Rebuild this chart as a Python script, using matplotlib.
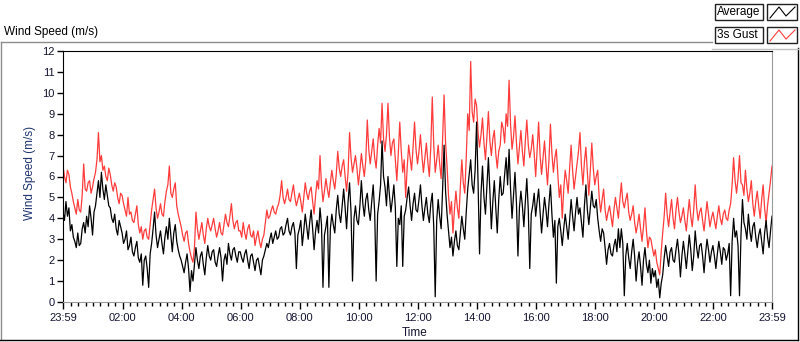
import numpy as np
import matplotlib
matplotlib.use("Agg")
import matplotlib.pyplot as plt
from matplotlib.lines import Line2D
from matplotlib.patches import Rectangle

# --- Data (hours after 23:59, one sample every 0.05 h) ---
step_h = 0.05

average = [
    4.3, 3.9, 4.8, 4.1, 4.5, 3.4, 3.7, 3.1, 2.9, 2.6, 3.3, 2.7, 2.8, 3.5, 3.8, 3.3, 4.1, 3.6, 4.6, 4.0,
    3.2, 4.3, 4.6, 5.2, 5.8, 5.0, 6.2, 5.4, 4.9, 5.6, 5.1, 4.6, 4.5, 4.0, 3.8, 4.2, 3.5, 3.2, 3.9, 3.6,
    3.3, 2.8, 3.0, 3.4, 2.5, 2.7, 3.1, 2.4, 2.2, 2.6, 2.9, 2.1, 1.9, 2.3, 0.8, 2.0, 2.2, 1.6, 0.7, 2.3,
    2.8, 3.5, 4.3, 3.2, 2.6, 3.0, 3.4, 2.8, 2.3, 3.1, 3.6, 3.0, 4.0, 3.2, 2.4, 3.3, 3.7, 2.9, 2.5, 2.2,
    2.0, 1.7, 1.4, 1.9, 2.3, 1.6, 0.5, 1.5, 1.0, 1.8, 2.6, 2.0, 1.6, 2.2, 2.4, 1.8, 1.3, 2.1, 2.7, 2.2,
    2.0, 2.4, 2.5, 1.9, 1.7, 2.2, 2.6, 2.1, 1.0, 2.0, 2.3, 1.8, 2.8, 2.3, 2.0, 2.5, 2.6, 2.2, 1.9, 2.4,
    2.4, 2.1, 1.9, 2.3, 2.5, 2.0, 1.6, 2.2, 2.3, 1.9, 1.5, 2.0, 2.1, 1.7, 1.3, 2.0, 2.2, 2.5, 2.8, 2.6,
    3.0, 3.3, 2.8, 3.1, 3.4, 3.0, 3.1, 3.5, 3.6, 3.2, 3.3, 3.7, 4.0, 3.4, 3.2, 3.6, 3.8, 3.3, 1.6, 3.2,
    3.5, 3.9, 2.7, 3.4, 4.2, 3.6, 3.0, 3.8, 4.4, 3.5, 2.5, 3.4, 3.9, 3.3, 4.5, 3.7, 0.7, 3.2, 3.6, 4.1,
    0.7, 3.5, 4.2, 3.7, 3.3, 4.4, 5.1, 4.2, 3.8, 4.6, 5.4, 4.5, 3.5, 4.8, 5.7, 4.3, 1.0, 4.0, 4.6, 3.9,
    3.7, 4.6, 5.8, 4.7, 4.1, 4.9, 5.2, 4.4, 3.9, 4.8, 5.6, 4.3, 1.0, 4.2, 4.8, 5.6, 7.7, 6.0, 5.5, 4.6,
    6.0, 5.1, 4.3, 4.9, 5.6, 4.5, 1.7, 4.0, 3.7, 4.6, 1.7, 4.1, 4.4, 5.0, 5.5, 4.6, 3.9, 4.7, 5.2, 4.4,
    4.3, 4.9, 5.6, 4.6, 3.9, 4.5, 5.0, 4.2, 3.8, 4.7, 5.2, 3.6, 0.25, 3.9, 4.9, 4.1, 3.5, 5.4, 7.5, 5.3,
    4.2, 3.4, 2.6, 3.1, 2.2, 2.9, 3.4, 2.7, 2.5, 3.3, 4.1, 3.5, 3.0, 4.3, 5.4, 6.1, 6.8, 5.6, 5.2, 6.3,
    8.6, 5.7, 2.3, 5.2, 6.5, 5.0, 4.2, 5.6, 6.9, 5.3, 3.5, 4.8, 5.8, 4.5, 3.3, 4.9, 6.0, 5.1, 5.2, 6.1,
    6.9, 5.6, 7.3, 5.4, 4.0, 5.1, 6.2, 4.7, 2.2, 4.5, 5.3, 4.6, 3.6, 4.8, 5.9, 4.4, 1.6, 4.2, 4.6, 5.2,
    4.1, 4.8, 5.4, 4.3, 3.3, 4.2, 5.0, 4.4, 3.6, 4.7, 5.6, 4.2, 3.1, 3.9, 0.9, 3.6, 4.0, 3.4, 2.7, 3.5,
    4.2, 3.6, 3.0, 3.9, 4.9, 4.1, 3.4, 4.3, 5.0, 4.2, 4.5, 3.8, 3.1, 4.6, 5.6, 4.4, 3.7, 4.5, 5.3, 4.6,
    4.5, 4.9, 4.0, 3.4, 2.9, 3.5, 3.3, 2.6, 1.8, 2.5, 2.8, 2.3, 2.2, 2.7, 3.0, 2.4, 3.5, 2.6, 3.5, 2.8,
    0.3, 2.2, 2.8, 2.1, 1.6, 2.4, 3.0, 2.2, 1.0, 1.9, 2.4, 1.7, 0.8, 2.0, 2.6, 1.8, 1.4, 2.0, 0.9, 1.6,
    1.2, 1.5, 0.7, 1.1, 0.2, 0.9, 1.3, 2.1, 2.7, 2.2, 1.7, 2.4, 2.6, 2.0, 1.9, 2.5, 3.0, 2.3, 1.2, 2.2,
    2.9, 2.3, 1.6, 2.4, 3.2, 2.5, 1.5, 2.2, 3.4, 2.6, 2.1, 2.7, 2.8, 2.2, 1.4, 2.3, 3.0, 2.5, 1.9, 2.4,
    2.7, 2.2, 1.6, 2.3, 2.9, 2.4, 1.8, 2.6, 2.5, 2.0, 2.3, 2.8, 0.3, 2.9, 4.0, 3.1, 3.4, 2.7, 0.3, 3.2,
    4.9, 3.8, 3.5, 3.0, 4.2, 3.4, 2.9, 3.6, 3.8, 3.1, 2.6, 3.2, 3.5, 2.9, 2.3, 3.3, 3.9, 3.1, 2.6, 3.4,
    4.1,
]

gust_3s = [
    6.5, 6.0, 5.7, 6.3, 6.1, 5.5, 5.2, 4.8, 4.5, 4.2, 4.9, 4.4, 4.3, 5.1, 6.6, 5.4, 5.3, 5.7, 5.8, 5.2,
    5.5, 5.9, 6.2, 6.8, 8.1, 6.7, 7.0, 6.3, 6.5, 6.0, 5.8, 6.4, 6.1, 5.6, 5.3, 5.7, 5.5, 5.0, 4.7, 5.2,
    5.1, 4.7, 4.4, 4.1, 5.0, 4.2, 4.3, 3.9, 3.8, 4.2, 4.6, 3.7, 3.3, 3.6, 3.0, 3.4, 3.5, 3.1, 3.0, 3.7,
    4.4, 4.9, 5.4, 4.5, 4.0, 4.3, 4.7, 4.2, 4.1, 4.8, 5.3, 5.6, 6.5, 5.2, 5.0, 5.4, 5.7, 4.6, 4.2, 3.9,
    3.6, 3.2, 2.9, 3.3, 3.4, 2.8, 2.4, 2.1, 1.9, 2.6, 4.3, 3.5, 3.0, 3.4, 3.8, 3.2, 2.8, 3.5, 4.0, 3.6,
    3.4, 3.7, 4.0, 3.5, 3.1, 3.4, 3.8, 3.3, 3.2, 3.7, 4.2, 3.8, 3.6, 4.1, 4.7, 3.9, 3.5, 3.8, 3.9, 3.4,
    3.4, 3.1, 3.8, 3.3, 3.0, 3.5, 3.7, 3.2, 3.1, 3.4, 2.7, 3.1, 3.4, 2.9, 2.6, 3.0, 3.2, 3.8, 4.4, 4.0,
    4.1, 4.4, 4.6, 4.3, 4.2, 4.5, 4.7, 5.1, 5.8, 5.0, 4.7, 5.0, 5.4, 4.9, 4.8, 5.2, 5.6, 5.0, 4.6, 4.9,
    5.2, 4.8, 4.3, 5.0, 5.7, 5.2, 4.9, 5.3, 5.5, 4.8, 4.2, 5.1, 5.8, 5.4, 7.0, 5.6, 4.8, 5.3, 5.9, 5.4,
    5.0, 5.7, 6.3, 5.8, 5.4, 6.1, 7.2, 6.4, 6.0, 6.5, 6.8, 6.0, 5.3, 6.2, 8.1, 6.9, 6.2, 6.6, 7.0, 6.4,
    5.6, 6.3, 7.1, 6.5, 6.0, 6.8, 8.7, 7.3, 6.6, 7.2, 7.8, 6.9, 6.4, 7.5, 8.3, 7.6, 9.5, 7.8, 7.2, 8.0,
    9.5, 7.9, 7.0, 7.6, 7.8, 6.8, 5.8, 7.1, 8.6, 7.2, 6.2, 6.8, 5.0, 6.4, 7.5, 6.9, 6.3, 7.4, 8.6, 7.3,
    6.6, 7.2, 8.0, 7.0, 6.2, 6.9, 7.6, 6.7, 6.0, 7.4, 9.8, 7.5, 6.2, 6.8, 7.5, 6.6, 5.9, 7.8, 9.9, 7.6,
    6.5, 5.1, 4.2, 4.8, 3.3, 4.4, 5.3, 4.5, 4.0, 5.5, 6.8, 5.7, 5.2, 6.9, 9.0, 8.2, 11.5, 9.1, 8.6, 9.7,
    9.4, 8.1, 7.4, 8.0, 8.8, 7.6, 6.8, 7.9, 9.1, 7.7, 7.0, 7.8, 8.2, 7.1, 6.4, 7.2, 7.5, 8.6, 8.3, 7.6,
    9.0, 8.4, 10.6, 8.5, 7.3, 7.9, 8.9, 7.6, 6.6, 7.4, 8.2, 7.2, 6.5, 7.7, 8.7, 7.5, 6.9, 7.3, 8.0, 7.1,
    6.0, 7.3, 8.6, 7.0, 6.1, 6.9, 7.7, 6.6, 5.6, 6.8, 8.5, 7.1, 6.2, 6.9, 7.3, 6.1, 5.0, 5.6, 4.0, 5.4,
    6.3, 5.8, 5.2, 6.4, 7.5, 6.3, 5.4, 6.0, 6.6, 7.2, 8.1, 6.5, 5.6, 6.7, 7.4, 6.2, 5.1, 6.3, 7.6, 6.4,
    5.6, 6.0, 6.3, 5.0, 4.3, 4.9, 5.4, 4.4, 3.9, 4.3, 4.6, 4.1, 3.6, 4.4, 5.0, 4.5, 4.0, 4.9, 5.7, 4.8,
    4.5, 4.9, 5.2, 4.3, 3.9, 4.2, 4.6, 3.8, 3.3, 3.7, 4.2, 3.5, 2.9, 3.6, 4.5, 3.4, 2.6, 3.1, 3.0, 2.6,
    2.2, 2.5, 1.9, 1.6, 1.3, 2.4, 3.3, 4.1, 5.2, 4.2, 3.6, 4.3, 4.9, 4.0, 3.5, 4.4, 5.0, 4.3, 3.8, 4.1,
    4.5, 3.9, 3.4, 4.2, 4.9, 4.1, 3.6, 4.4, 5.6, 4.5, 3.9, 4.3, 4.5, 3.9, 3.4, 4.1, 4.8, 4.2, 3.6, 4.0,
    4.3, 3.9, 3.5, 4.1, 4.6, 4.0, 3.7, 4.2, 4.4, 4.0, 3.9, 4.4, 4.7, 5.6, 6.9, 5.8, 5.2, 5.9, 7.0, 5.7,
    5.6, 5.1, 6.3, 5.4, 4.8, 5.2, 5.8, 4.7, 4.1, 4.8, 5.3, 4.6, 4.0, 4.9, 5.6, 4.5, 3.8, 4.6, 5.2, 5.8,
    6.5,
]

tick_labels = ["23:59", "02:00", "04:00", "06:00", "08:00", "10:00",
               "12:00", "14:00", "16:00", "18:00", "20:00", "22:00", "23:59"]

hours = np.arange(len(average)) * step_h

# --- Figure ---
W, H = 800, 342
fig = plt.figure(figsize=(W / 100, H / 100), dpi=100)
plt.rcParams['font.family'] = ['Liberation Sans', 'DejaVu Sans']

x0, x1, ytop, ybot = 63, 772, 51, 302
ax = fig.add_axes([x0 / W, (H - ybot) / H, (x1 - x0) / W, (ybot - ytop) / H])

ax.plot(hours, gust_3s, color='#ff3c3c', lw=0.9)
ax.plot(hours, average, color='black', lw=0.9)

ax.set_xlim(0, 24)
ax.set_ylim(0, 12)

# ticks
major = [0] + [2 * k + 1 / 60 for k in range(1, 12)] + [24]
ax.set_xticks(major)
ax.set_xticklabels(tick_labels)
ax.set_xticks([1 / 60 + 0.25 * k for k in range(1, 96) if k % 8 != 0], minor=True)
ax.set_yticks(range(13))
ax.tick_params(axis='both', which='major', direction='out', length=4, width=1,
               labelsize=8, labelcolor='#141432', pad=2)
ax.tick_params(axis='x', which='major', length=5, pad=3)
ax.tick_params(axis='x', which='minor', direction='out', length=3, width=1)

for side in ['left', 'top']:
    ax.spines[side].set_color('black')
for side in ['right', 'bottom']:
    ax.spines[side].set_color('#9a9a9a')

# axis labels
fig.text(30 / W, 1 - 173 / H, "Wind Speed (m/s)", rotation=90, ha='center', va='center',
         fontsize=8.5, color='#1f3470')
fig.text(415 / W, 1 - 333 / H, "Time", ha='center', va='center', fontsize=8.5, color='#141432')
fig.text(4 / W, 1 - 32 / H, "Wind Speed (m/s)", ha='left', va='center', fontsize=8.5, color='black')

# --- outer frame ---
def px_line(xs, ys, color, lw=1.0):
    fig.add_artist(Line2D([x / W for x in xs], [1 - y / H for y in ys],
                          color=color, lw=lw, transform=fig.transFigure))

px_line([0.5, 712], [42, 42], '#8c8c8c')
px_line([0.5, 0.5], [42, 340], '#8c8c8c')
px_line([0, 798], [339.5, 339.5], 'black')
px_line([798, 798], [48, 340], 'black')
px_line([712, 798], [48.5, 48.5], '#c0c0c0')

# --- legend ---
legend_rows = [("Average", 'black', 4), ("3s Gust", '#ff3c3c', 27)]
for name, col, y in legend_rows:
    fig.add_artist(Rectangle((715 / W, 1 - (y + 16) / H), 48 / W, 16 / H,
                             transform=fig.transFigure, fill=False, ec='#202020', lw=1))
    fig.add_artist(Rectangle((767 / W, 1 - (y + 16) / H), 30 / W, 16 / H,
                             transform=fig.transFigure, fill=False, ec='#202020', lw=1))
    fig.text(717 / W, 1 - (y + 8.5) / H, name, ha='left', va='center', fontsize=8.5,
             color='black')
    px_line([770, 779, 786, 795], [y + 14, y + 3, y + 12, y + 3], col, lw=0.8)

fig.savefig("out.png", dpi=100)
